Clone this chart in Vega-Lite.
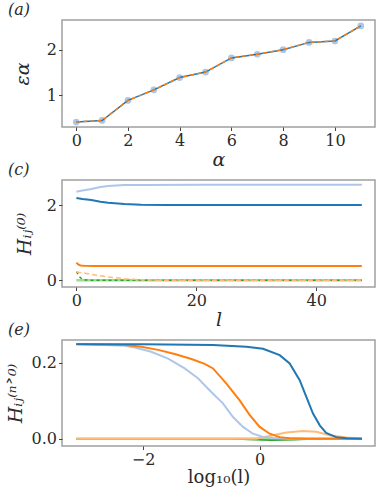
{
  "$schema": "https://vega.github.io/schema/vega-lite/v6.json",
  "autosize": "pad",
  "padding": {"left": 5, "top": 1, "right": 0, "bottom": 0},
  "background": "white",
  "spacing": 53,
  "bounds": "flush",
  "config": {
    "view": {"stroke": "#a0a0a0", "strokeWidth": 1.5},
    "axis": {
      "grid": false, "domain": false, "tickColor": "#444", "tickSize": 3.5, "tickWidth": 1,
      "labelFont": "DejaVu Serif", "labelFontSize": 16, "labelColor": "#2a2a2a", "labelPadding": 2,
      "titleFont": "DejaVu Serif", "titleFontSize": 19, "titleFontWeight": "normal", "titleColor": "#2a2a2a"
    },
    "title": {"font": "DejaVu Serif", "fontSize": 16, "fontWeight": "normal", "fontStyle": "italic", "color": "#2a2a2a", "anchor": "start", "frame": "group", "dx": -54, "offset": 2, "baseline": "bottom"}
  },
  "datasets": {
    "a": [
      {"alpha": 0, "eps": 0.416}, {"alpha": 1, "eps": 0.45}, {"alpha": 2, "eps": 0.89},
      {"alpha": 3, "eps": 1.12}, {"alpha": 4, "eps": 1.39}, {"alpha": 5, "eps": 1.51},
      {"alpha": 6, "eps": 1.82}, {"alpha": 7, "eps": 1.9}, {"alpha": 8, "eps": 2.0},
      {"alpha": 9, "eps": 2.16}, {"alpha": 10, "eps": 2.19}, {"alpha": 11, "eps": 2.52}
    ],
    "c": [
      {"s": "lb", "l": 0, "H": 2.356}, {"s": "lb", "l": 1, "H": 2.39}, {"s": "lb", "l": 2.5, "H": 2.43}, {"s": "lb", "l": 4, "H": 2.48}, {"s": "lb", "l": 5.3, "H": 2.507}, {"s": "lb", "l": 8, "H": 2.533}, {"s": "lb", "l": 12, "H": 2.537}, {"s": "lb", "l": 20, "H": 2.538}, {"s": "lb", "l": 47.6, "H": 2.538},
      {"s": "b", "l": 0, "H": 2.187}, {"s": "b", "l": 1, "H": 2.16}, {"s": "b", "l": 2.5, "H": 2.133}, {"s": "b", "l": 4, "H": 2.09}, {"s": "b", "l": 5.3, "H": 2.062}, {"s": "b", "l": 8, "H": 2.027}, {"s": "b", "l": 10.8, "H": 2.009}, {"s": "b", "l": 15, "H": 2.002}, {"s": "b", "l": 47.6, "H": 2.0},
      {"s": "o", "l": 0, "H": 0.47}, {"s": "o", "l": 0.3, "H": 0.42}, {"s": "o", "l": 0.7, "H": 0.395}, {"s": "o", "l": 1.2, "H": 0.385}, {"s": "o", "l": 3, "H": 0.382}, {"s": "o", "l": 47.6, "H": 0.382},
      {"s": "lo", "l": 0, "H": 0.22}, {"s": "lo", "l": 1, "H": 0.2}, {"s": "lo", "l": 2.5, "H": 0.16}, {"s": "lo", "l": 5.3, "H": 0.09}, {"s": "lo", "l": 8, "H": 0.044}, {"s": "lo", "l": 10.8, "H": 0.015}, {"s": "lo", "l": 13, "H": 0.005}, {"s": "lo", "l": 16, "H": 0}, {"s": "lo", "l": 47.6, "H": 0},
      {"s": "g", "l": 0, "H": 0.23}, {"s": "g", "l": 0.3, "H": 0.15}, {"s": "g", "l": 0.6, "H": 0.08}, {"s": "g", "l": 1, "H": 0.03}, {"s": "g", "l": 1.5, "H": 0.01}, {"s": "g", "l": 2.5, "H": 0}, {"s": "g", "l": 47.6, "H": 0},
      {"s": "lg", "l": 0, "H": 0}, {"s": "lg", "l": 47.6, "H": 0}
    ],
    "e": [
      {"s": "lg", "x": -3.144, "H": 0}, {"s": "lg", "x": 1.754, "H": 0},
      {"s": "g", "x": -3.144, "H": 0}, {"s": "g", "x": -0.5, "H": 0}, {"s": "g", "x": -0.2, "H": -0.002}, {"s": "g", "x": 0.2, "H": -0.004}, {"s": "g", "x": 0.6, "H": -0.003}, {"s": "g", "x": 0.9, "H": -0.001}, {"s": "g", "x": 1.2, "H": 0}, {"s": "g", "x": 1.754, "H": 0},
      {"s": "lo", "x": -3.144, "H": 0}, {"s": "lo", "x": -0.06, "H": 0}, {"s": "lo", "x": 0.23, "H": 0.009}, {"s": "lo", "x": 0.457, "H": 0.016}, {"s": "lo", "x": 0.743, "H": 0.02}, {"s": "lo", "x": 0.97, "H": 0.018}, {"s": "lo", "x": 1.2, "H": 0.009}, {"s": "lo", "x": 1.49, "H": 0.003}, {"s": "lo", "x": 1.754, "H": 0},
      {"s": "lb", "x": -3.144, "H": 0.2495}, {"s": "lb", "x": -2.31, "H": 0.245}, {"s": "lb", "x": -2.14, "H": 0.24}, {"s": "lb", "x": -1.86, "H": 0.229}, {"s": "lb", "x": -1.57, "H": 0.211}, {"s": "lb", "x": -1.286, "H": 0.185}, {"s": "lb", "x": -1.058, "H": 0.159}, {"s": "lb", "x": -0.83, "H": 0.123}, {"s": "lb", "x": -0.63, "H": 0.093}, {"s": "lb", "x": -0.457, "H": 0.057}, {"s": "lb", "x": -0.286, "H": 0.031}, {"s": "lb", "x": -0.115, "H": 0.013}, {"s": "lb", "x": 0.057, "H": 0.0045}, {"s": "lb", "x": 0.23, "H": 0.002}, {"s": "lb", "x": 0.5, "H": 0}, {"s": "lb", "x": 1.754, "H": 0},
      {"s": "o", "x": -3.144, "H": 0.2495}, {"s": "o", "x": -2.31, "H": 0.247}, {"s": "o", "x": -2.03, "H": 0.242}, {"s": "o", "x": -1.74, "H": 0.234}, {"s": "o", "x": -1.457, "H": 0.223}, {"s": "o", "x": -1.17, "H": 0.21}, {"s": "o", "x": -0.943, "H": 0.197}, {"s": "o", "x": -0.8, "H": 0.185}, {"s": "o", "x": -0.57, "H": 0.145}, {"s": "o", "x": -0.343, "H": 0.101}, {"s": "o", "x": -0.17, "H": 0.062}, {"s": "o", "x": 0, "H": 0.031}, {"s": "o", "x": 0.171, "H": 0.013}, {"s": "o", "x": 0.343, "H": 0.004}, {"s": "o", "x": 0.51, "H": 0.001}, {"s": "o", "x": 0.8, "H": 0}, {"s": "o", "x": 1.754, "H": 0},
      {"s": "b", "x": -3.144, "H": 0.249}, {"s": "b", "x": -2, "H": 0.249}, {"s": "b", "x": -0.8, "H": 0.247}, {"s": "b", "x": -0.23, "H": 0.242}, {"s": "b", "x": 0.057, "H": 0.237}, {"s": "b", "x": 0.343, "H": 0.22}, {"s": "b", "x": 0.514, "H": 0.198}, {"s": "b", "x": 0.686, "H": 0.154}, {"s": "b", "x": 0.8, "H": 0.11}, {"s": "b", "x": 0.914, "H": 0.066}, {"s": "b", "x": 1.03, "H": 0.035}, {"s": "b", "x": 1.14, "H": 0.015}, {"s": "b", "x": 1.31, "H": 0.004}, {"s": "b", "x": 1.49, "H": 0.001}, {"s": "b", "x": 1.754, "H": 0}
    ]
  },
  "vconcat": [
    {
      "width": 313, "height": 107,
      "title": "(a)",
      "data": {"name": "a"},
      "encoding": {
        "x": {"field": "alpha", "type": "quantitative", "scale": {"domain": [-0.55, 11.55], "nice": false, "zero": false}, "axis": {"values": [0, 2, 4, 6, 8, 10], "title": "α", "titleFontStyle": "italic", "titlePadding": 2}},
        "y": {"field": "eps", "type": "quantitative", "scale": {"domain": [0.307, 2.65], "nice": false, "zero": false}, "axis": {"values": [1, 2], "title": "εα", "titleFontStyle": "italic", "titlePadding": 14}}
      },
      "layer": [
        {"mark": {"type": "point", "filled": true, "color": "#aec7e8", "size": 45, "opacity": 1}},
        {"mark": {"type": "line", "color": "#1f77b4", "strokeWidth": 1.5}},
        {"mark": {"type": "line", "color": "#ff7f0e", "strokeWidth": 1.5, "strokeDash": [4, 3]}}
      ]
    },
    {
      "width": 313, "height": 107,
      "title": "(c)",
      "data": {"name": "c"},
      "encoding": {
        "x": {"field": "l", "type": "quantitative", "scale": {"domain": [-2.4, 49.8], "nice": false, "zero": false}, "axis": {"values": [0, 20, 40], "title": "l", "titleFontStyle": "italic", "titlePadding": 2}},
        "y": {"field": "H", "type": "quantitative", "scale": {"domain": [-0.178, 2.667], "nice": false, "zero": false}, "axis": {"values": [0, 2], "title": "Hᵢⱼ⁽⁰⁾", "titleFontStyle": "italic", "titlePadding": 12}}
      },
      "layer": [
        {"transform": [{"filter": "datum.s === 'lg'"}], "mark": {"type": "line", "color": "#98df8a", "strokeWidth": 2.5}},
        {"transform": [{"filter": "datum.s === 'g'"}], "mark": {"type": "line", "color": "#2ca02c", "strokeWidth": 1.5, "strokeDash": [3, 3]}},
        {"transform": [{"filter": "datum.s === 'lo'"}], "mark": {"type": "line", "color": "#ffbb78", "strokeWidth": 1.5, "strokeDash": [5, 3]}},
        {"transform": [{"filter": "datum.s === 'o'"}], "mark": {"type": "line", "color": "#ff7f0e", "strokeWidth": 2}},
        {"transform": [{"filter": "datum.s === 'b'"}], "mark": {"type": "line", "color": "#1f77b4", "strokeWidth": 2}},
        {"transform": [{"filter": "datum.s === 'lb'"}], "mark": {"type": "line", "color": "#aec7e8", "strokeWidth": 2}}
      ]
    },
    {
      "width": 313, "height": 106,
      "title": "(e)",
      "data": {"name": "e"},
      "encoding": {
        "x": {"field": "x", "type": "quantitative", "scale": {"domain": [-3.389, 1.977], "nice": false, "zero": false}, "axis": {"values": [-2, 0], "format": "d", "title": "log₁₀(l)", "titlePadding": 1, "titleFontSize": 18}},
        "y": {"field": "H", "type": "quantitative", "scale": {"domain": [-0.0194, 0.26], "nice": false, "zero": false}, "axis": {"values": [0, 0.2], "format": ".1f", "title": "Hᵢⱼ⁽ⁿ˃⁰⁾", "titleFontStyle": "italic", "titlePadding": 6}}
      },
      "layer": [
        {"transform": [{"filter": "datum.s === 'lg'"}], "mark": {"type": "line", "color": "#98df8a", "strokeWidth": 2.5}},
        {"transform": [{"filter": "datum.s === 'g'"}], "mark": {"type": "line", "color": "#2ca02c", "strokeWidth": 1.5}},
        {"transform": [{"filter": "datum.s === 'lo'"}], "mark": {"type": "line", "color": "#ffbb78", "strokeWidth": 2}},
        {"transform": [{"filter": "datum.s === 'lb'"}], "mark": {"type": "line", "color": "#aec7e8", "strokeWidth": 2}},
        {"transform": [{"filter": "datum.s === 'o'"}], "mark": {"type": "line", "color": "#ff7f0e", "strokeWidth": 2}},
        {"transform": [{"filter": "datum.s === 'b'"}], "mark": {"type": "line", "color": "#1f77b4", "strokeWidth": 2}}
      ]
    }
  ]
}
